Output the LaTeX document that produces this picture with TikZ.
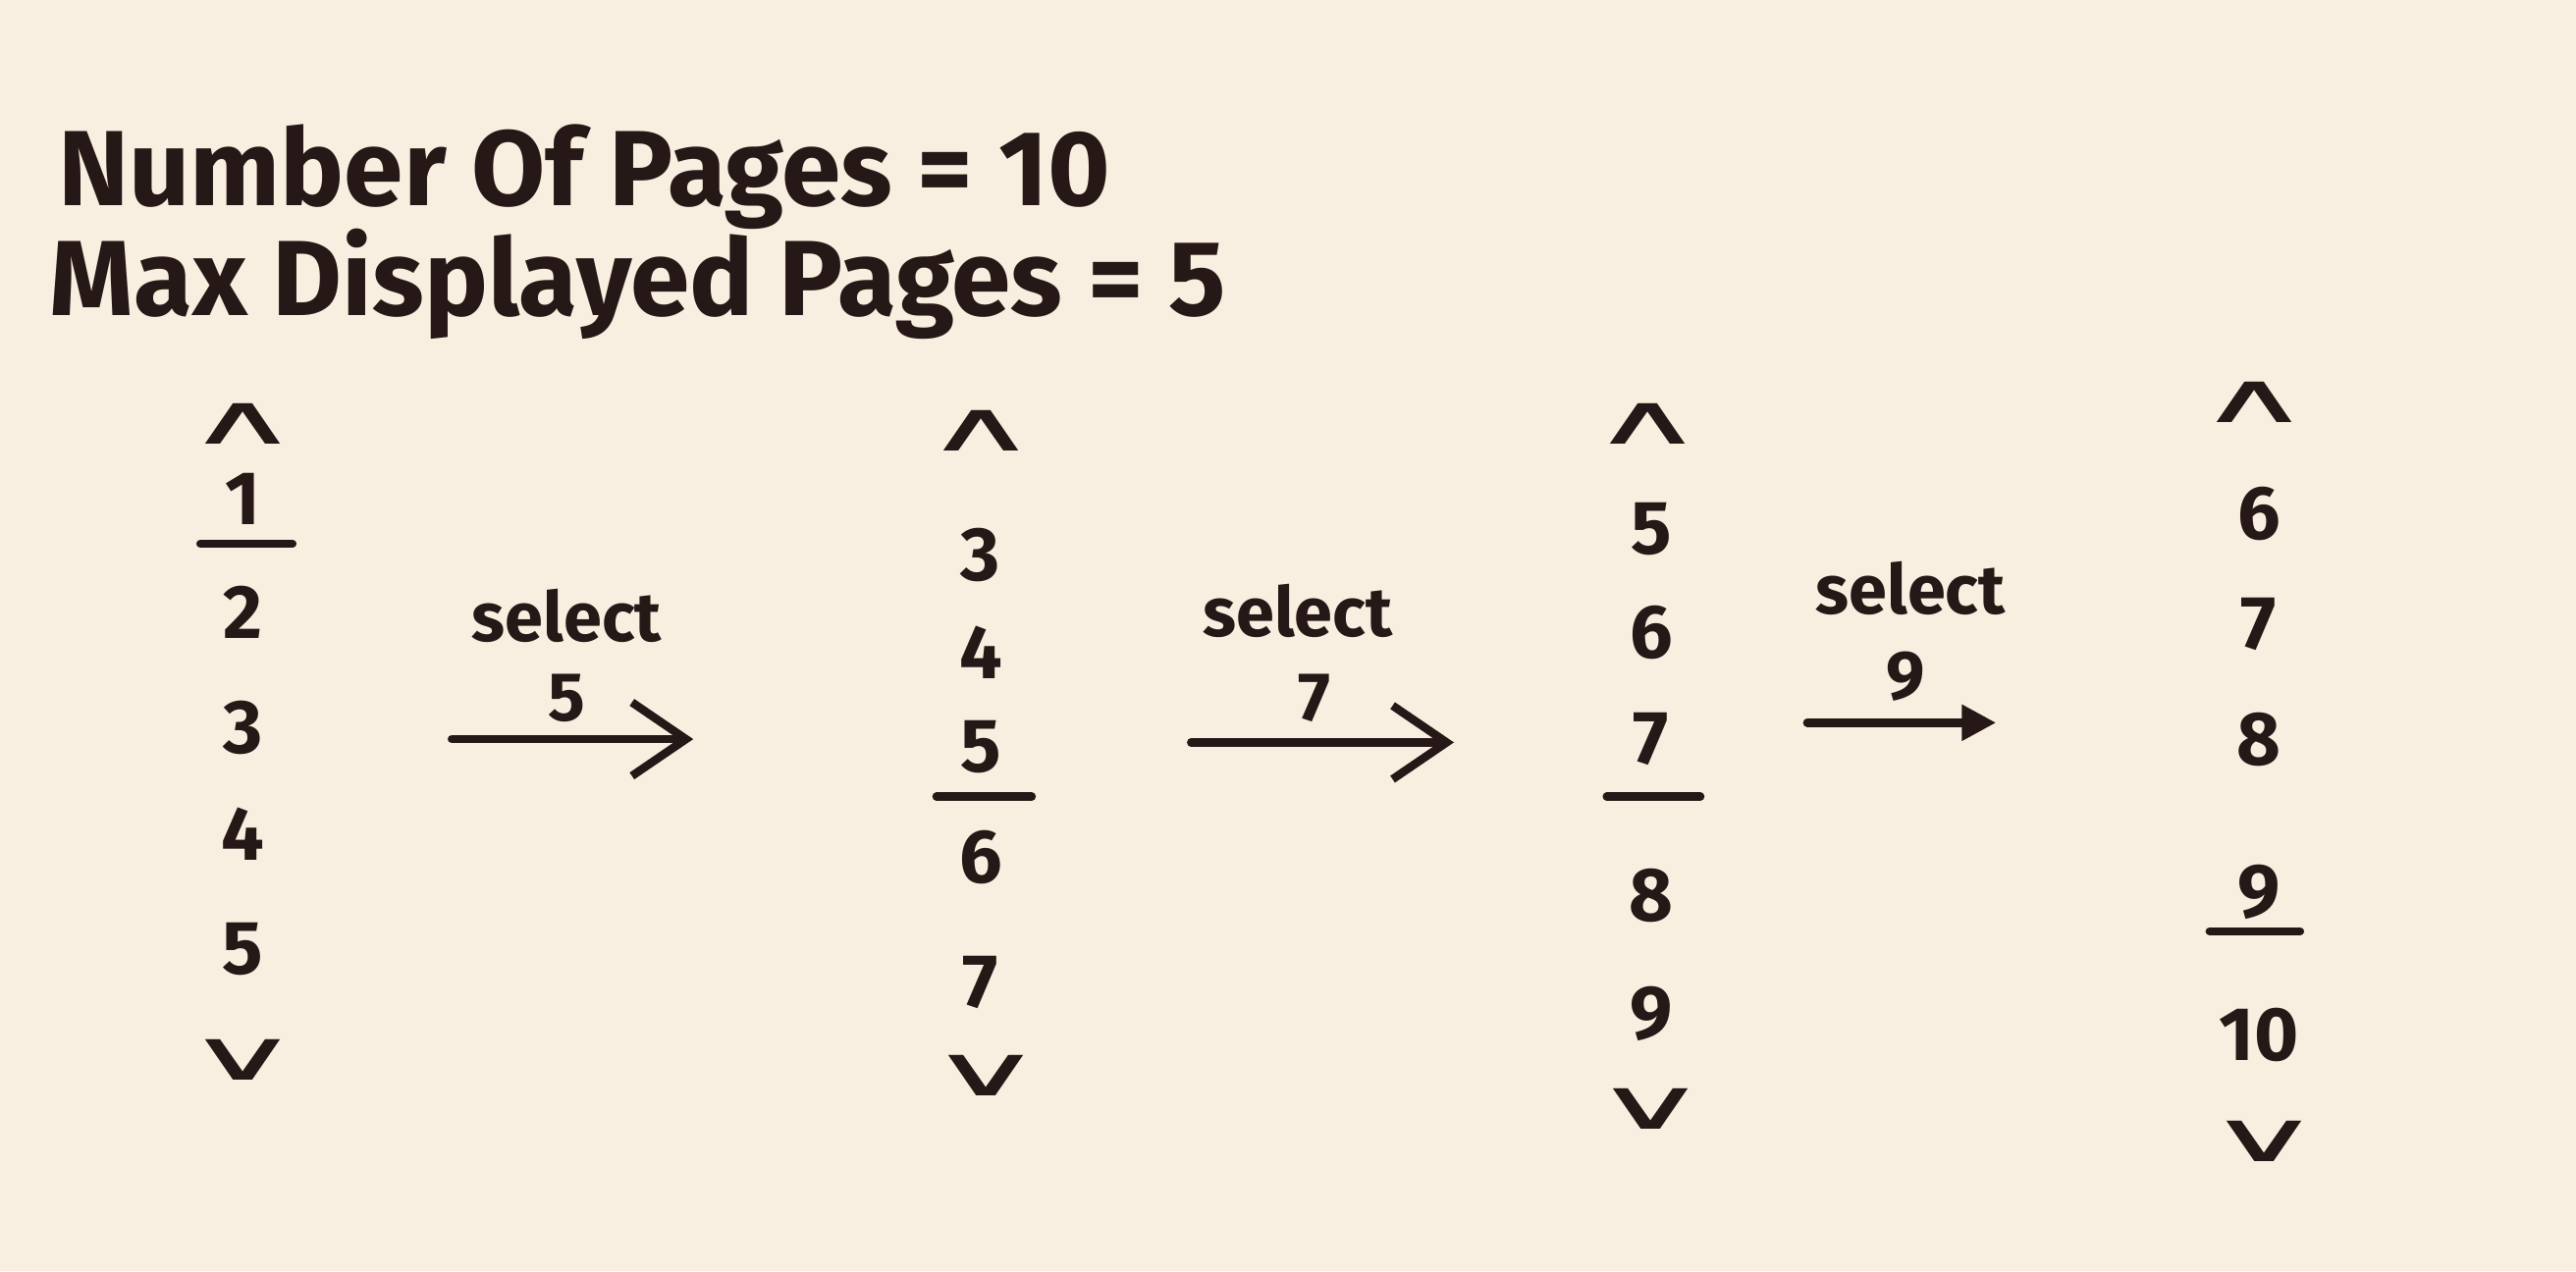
\documentclass[tikz,border=0pt]{standalone}
\usepackage{fontspec}
\setmainfont{Fira Sans}
\newfontfamily\chevfont{DejaVu Sans}
\usetikzlibrary{arrows.meta}
\definecolor{paper}{RGB}{249,239,224}
\definecolor{ink}{RGB}{38,24,22}
\newcommand{\upchev}{\scalebox{1.7}[0.75]{∧}}
\newcommand{\dnchev}{\scalebox{1.7}[0.75]{∨}}

\begin{document}
\begin{tikzpicture}[x=0.016735cm, y=-0.016735cm,
    title/.style={anchor=base west, inner sep=0pt, text=ink,
                  font=\fontsize{31}{33}\selectfont\bfseries},
    page/.style={inner sep=1pt, text=ink, font=\fontsize{22}{24}\selectfont\bfseries},
    chev/.style={inner sep=0pt, text=ink, font=\chevfont\fontsize{27}{29}\selectfont},
    sel/.style={inner sep=1pt, text=ink, font=\fontsize{20}{22}\selectfont\bfseries},
    cut/.style={ink, line width=2.4pt, line cap=round},
    arr/.style={-{Straight Barb[length=5.5mm, width=7.5mm]}, ink, line width=2.4pt, line cap=round}]
    \fill[paper] (0,0) rectangle (1568,774);
    \useasboundingbox (0,0) rectangle (1568,774);

    % Settings
    \node[title] (npages) at (35,125) {Number Of Pages = 10};
    \node[title] (maxpages) at (30,192) {Max Displayed Pages = 5};

    % Window 1
    \node[chev] (w1up) at (148,258) {\upchev};
    \foreach \n/\y in {1/304, 2/373, 3/443, 4/508, 5/578}
        \node[page] (w1p\n) at (148,\y) {\n};
    \node[chev] (w1dn) at (148,645) {\dnchev};
    \draw[cut] (122,331) -- (178,331);

    % Window 2
    \node[chev] (w2up) at (597,262) {\upchev};
    \foreach \n/\y in {3/338, 4/397, 5/455, 6/522, 7/598}
        \node[page] (w2p\n) at (597,\y) {\n};
    \node[chev] (w2dn) at (600,655) {\dnchev};
    \draw[cut] (570,485) -- (628,485);

    % Window 3
    \node[chev] (w3up) at (1003,258) {\upchev};
    \foreach \n/\y in {5/322, 6/385, 7/450, 8/545, 9/617}
        \node[page] (w3p\n) at (1005,\y) {\n};
    \node[chev] (w3dn) at (1005,675) {\dnchev};
    \draw[cut] (978,485) -- (1035,485);

    % Window 4
    \node[chev] (w4up) at (1372,245) {\upchev};
    \foreach \n/\y in {6/313, 7/380, 8/450, 9/543, 10/630}
        \node[page] (w4p\n) at (1375,\y) {\n};
    \node[chev] (w4dn) at (1378,695) {\dnchev};
    \draw[cut] (1345,567) -- (1400,567);

    % Selections
    \coordinate (s1a) at (275,450);
    \coordinate (s1b) at (422,450);
    \node[sel] (s1txt) at (345,375) {select};
    \node[sel] (s1num) at (345,425) {5};
    \draw[arr] (s1a) -- (s1b);

    \coordinate (s2a) at (725,452);
    \coordinate (s2b) at (885,452);
    \node[sel] (s2txt) at (790,372) {select};
    \node[sel] (s2num) at (800,425) {7};
    \draw[arr] (s2a) -- (s2b);

    \coordinate (s3a) at (1100,440);
    \coordinate (s3b) at (1215,440);
    \node[sel] (s3txt) at (1163,358) {select};
    \node[sel] (s3num) at (1160,412) {9};
    \draw[arr, -{Triangle[length=3.5mm, width=3.5mm]}] (s3a) -- (s3b);
\end{tikzpicture}
\end{document}
